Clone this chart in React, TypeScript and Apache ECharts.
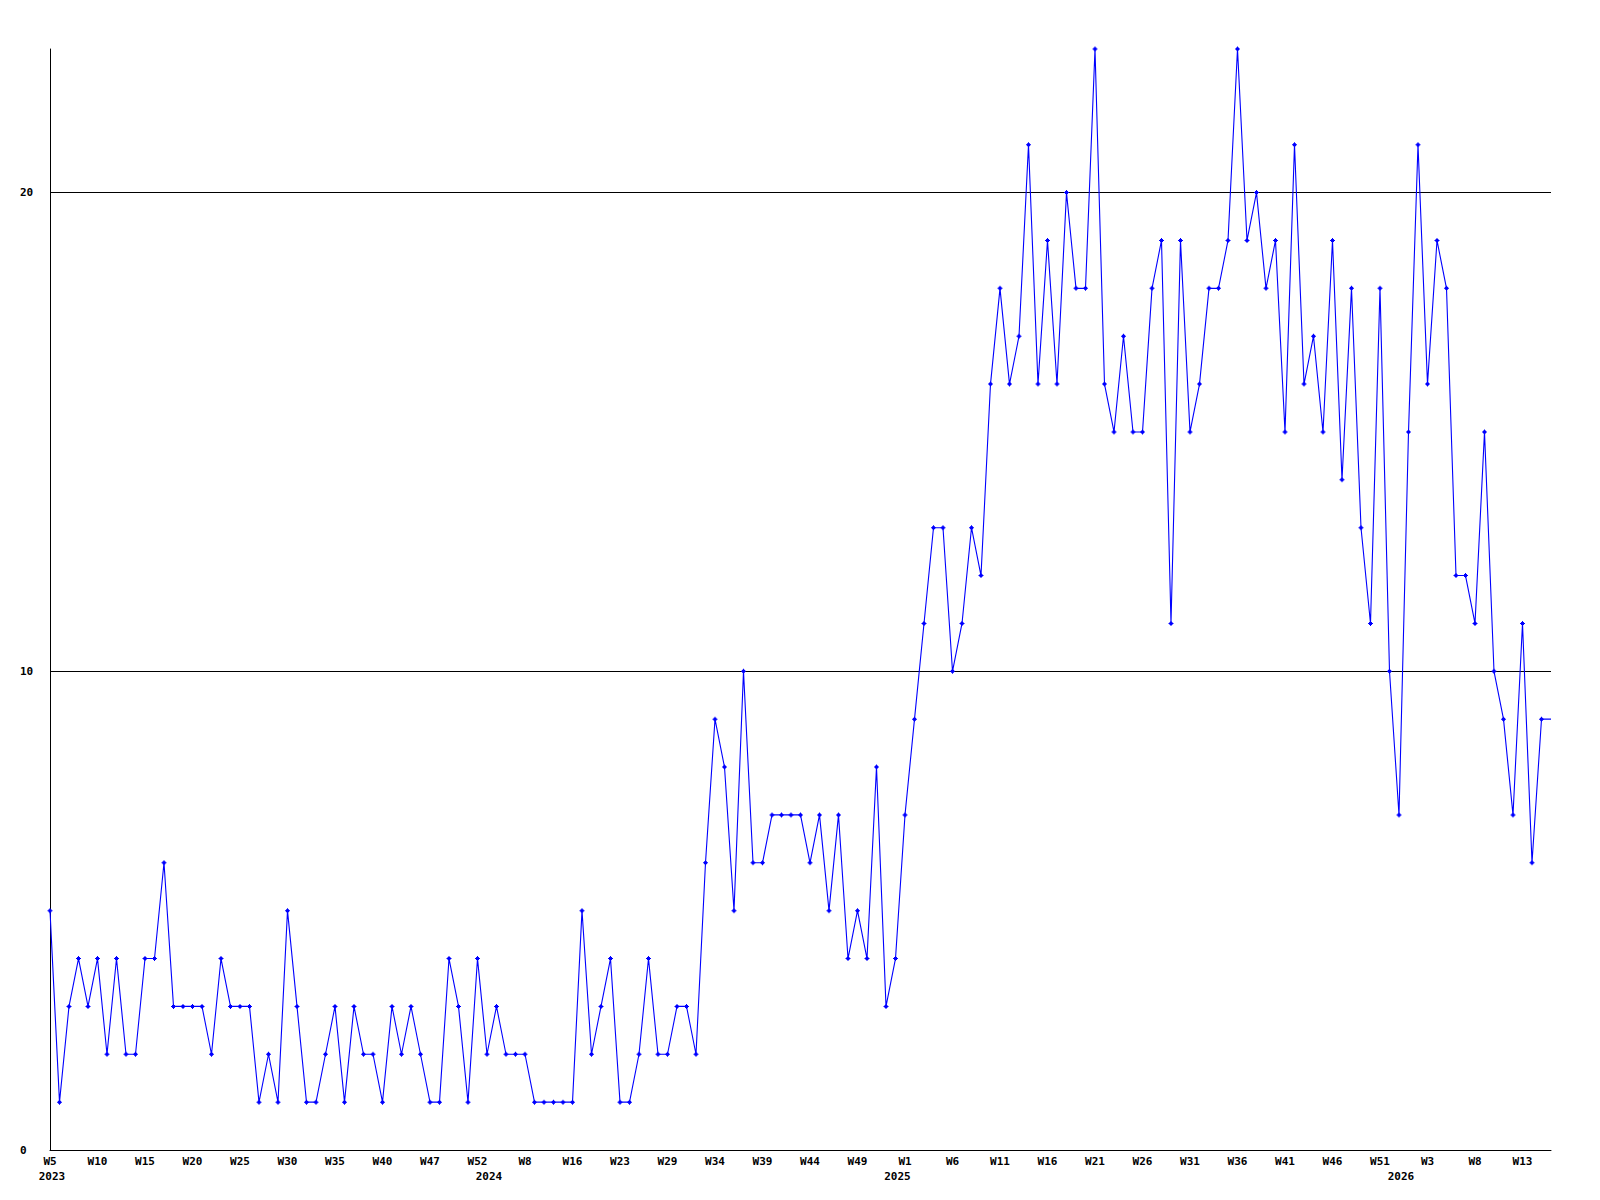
import React, { useEffect, useRef } from "react";
import * as echarts from "echarts";

// Weekly counts (159 points)
const values: number[] = [
  5, 1, 3, 4, 3, 4, 2, 4, 2, 2,
  4, 4, 6, 3, 3, 3, 3, 2, 4, 3,
  3, 3, 1, 2, 1, 5, 3, 1, 1, 2,
  3, 1, 3, 2, 2, 1, 3, 2, 3, 2,
  1, 1, 4, 3, 1, 4, 2, 3, 2, 2,
  2, 1, 1, 1, 1, 1, 5, 2, 3, 4,
  1, 1, 2, 4, 2, 2, 3, 3, 2, 6,
  9, 8, 5, 10, 6, 6, 7, 7, 7, 7,
  6, 7, 5, 7, 4, 5, 4, 8, 3, 4,
  7, 9, 11, 13, 13, 10, 11, 13, 12, 16,
  18, 16, 17, 21, 16, 19, 16, 20, 18, 18,
  23, 16, 15, 17, 15, 15, 18, 19, 11, 19,
  15, 16, 18, 18, 19, 23, 19, 20, 18, 19,
  15, 21, 16, 17, 15, 19, 14, 18, 13, 11,
  18, 10, 7, 15, 21, 16, 19, 18, 12, 12,
  11, 15, 10, 9, 7, 11, 6, 9, 9,
];

// Week tick labels, one every 5 points
const weekTicks: string[] = [
  "W5", "W10", "W15", "W20", "W25", "W30", "W35", "W40", "W47", "W52",
  "W8", "W16", "W23", "W29", "W34", "W39", "W44", "W49", "W1", "W6",
  "W11", "W16", "W21", "W26", "W31", "W36", "W41", "W46", "W51", "W3",
  "W8", "W13",
];
const tickStep = 5;

// Year labels and the point index where each year starts
const yearLabels: string[] = ["2023", "2024", "2025", "2026"];
const yearIndex: number[] = [0, 46, 89, 142];

const yTicks = { min: 0, max: 23, interval: 10 };

const FONT = "'DejaVu Sans Mono', monospace";

export default function App() {
  const ref = useRef<HTMLDivElement>(null);

  useEffect(() => {
    if (!ref.current) return;
    const chart = echarts.init(ref.current, undefined, { renderer: "svg" });
    const categories = values.map((_, i) => String(i));
    const last = values.length - 1;
    chart.setOption({
      animation: false,
      backgroundColor: "#ffffff",
      grid: { left: 50, right: 49, top: 49, bottom: 50, containLabel: false },
      xAxis: [
        {
          type: "category",
          data: categories,
          boundaryGap: false,
          position: "bottom",
          axisLine: { show: true, lineStyle: { color: "#000", width: 1 } },
          axisTick: { show: false },
          splitLine: { show: false },
          axisLabel: {
            interval: (i: number) => i % tickStep === 0,
            formatter: (_v: string, i: number) =>
              i % tickStep === 0 ? weekTicks[i / tickStep] ?? "" : "",
            color: "#000",
            fontFamily: FONT,
            fontWeight: "bold",
            fontSize: 11,
            margin: 6,
          },
        },
        {
          type: "category",
          data: categories,
          boundaryGap: false,
          position: "bottom",
          axisLine: { show: false },
          axisTick: { show: false },
          splitLine: { show: false },
          axisLabel: {
            interval: (i: number) => yearIndex.indexOf(i) >= 0,
            formatter: (_v: string, i: number) => {
              const k = yearIndex.indexOf(i);
              return k >= 0 ? yearLabels[k] : "";
            },
            color: "#000",
            fontFamily: FONT,
            fontWeight: "bold",
            fontSize: 11,
            margin: 21,
            padding: [0, 0, 0, 4],
          },
        },
      ],
      yAxis: {
        type: "value",
        min: yTicks.min,
        max: yTicks.max,
        interval: yTicks.interval,
        axisLine: { show: true, lineStyle: { color: "#000", width: 1 } },
        axisTick: { show: false },
        axisLabel: {
          showMaxLabel: false,
          align: "left",
          margin: 30,
          color: "#000",
          fontFamily: FONT,
          fontWeight: "bold",
          fontSize: 11,
        },
        splitLine: {
          show: true,
          showMaxLine: false,
          showMinLine: false,
          lineStyle: { color: "#000", width: 1 },
        },
      },
      series: [
        {
          type: "line",
          xAxisIndex: 0,
          data: values.map((v, i) =>
            i === last ? { value: v, symbol: "none" } : v
          ),
          symbol: "path://M2,0H3V1H4V2H5V3H4V4H3V5H2V4H1V3H0V2H1V1H2Z",
          symbolSize: 5,
          showAllSymbol: true,
          lineStyle: { color: "#0000ff", width: 1.1 },
          itemStyle: { color: "#0000ff" },
          clip: false,
        },
      ],
    });
    return () => chart.dispose();
  }, []);

  return (
    <div
      ref={ref}
      style={{ position: "absolute", left: 0, top: 0, width: 1600, height: 1200, background: "#fff" }}
    />
  );
}
